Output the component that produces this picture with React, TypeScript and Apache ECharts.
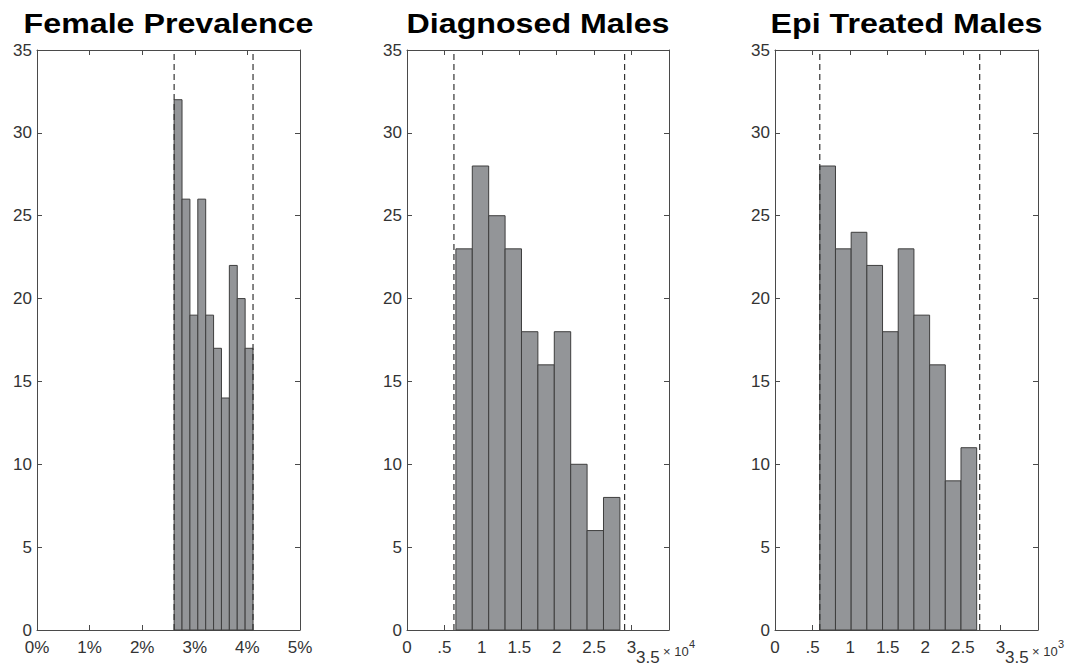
import React, { useEffect, useRef } from 'react';
import * as echarts from 'echarts';

// ---- data ----
const panelTitles = ['Female Prevalence', 'Diagnosed Males', 'Epi Treated Males'];

const femaleCounts = [32, 26, 19, 26, 19, 17, 14, 22, 20, 17];
const femaleBinStart = 0.02607;
const femaleBinWidth = 0.0015;
const femaleBounds = [0.02607, 0.04107];
const femaleXTicks = ['0%', '1%', '2%', '3%', '4%', '5%'];

const diagnosedCounts = [23, 28, 25, 23, 18, 16, 18, 10, 6, 8];
const diagnosedBinStart = 6530;
const diagnosedBinWidth = 2191;
const diagnosedBounds = [6270, 29070];
const diagnosedXTicks = ['0', '.5', '1', '1.5', '2', '2.5', '3', ''];

const epiCounts = [28, 23, 24, 22, 18, 23, 19, 16, 9, 11];
const epiBinStart = 596;
const epiBinWidth = 208.8;
const epiBounds = [596, 2724];
const epiXTicks = ['0', '.5', '1', '1.5', '2', '2.5', '3', ''];

const yMax = 35;
const yStep = 5;

const FONT = '"Liberation Sans", Arial, Helvetica, sans-serif';
const AXIS_COLOR = '#4a4a4a';
const LABEL_COLOR = '#333333';

type Panel = {
  title: string;
  counts: number[];
  start: number;
  width: number;
  bounds: number[];
  ticks: string[];
  xMax: number;
  xStep: number;
  left: number;
  gw: number;
  exponent?: string;
};

const panels: Panel[] = [
  { title: panelTitles[0], counts: femaleCounts, start: femaleBinStart, width: femaleBinWidth, bounds: femaleBounds, ticks: femaleXTicks, xMax: 0.05, xStep: 0.01, left: 37, gw: 263 },
  { title: panelTitles[1], counts: diagnosedCounts, start: diagnosedBinStart, width: diagnosedBinWidth, bounds: diagnosedBounds, ticks: diagnosedXTicks, xMax: 35000, xStep: 5000, left: 407, gw: 262, exponent: '4' },
  { title: panelTitles[2], counts: epiCounts, start: epiBinStart, width: epiBinWidth, bounds: epiBounds, ticks: epiXTicks, xMax: 3500, xStep: 500, left: 775, gw: 263, exponent: '3' },
];

const GRID_TOP = 50;
const GRID_H = 580;

function buildOption() {
  const grid: any[] = [];
  const xAxis: any[] = [];
  const yAxis: any[] = [];
  const series: any[] = [];
  const graphic: any[] = [];

  panels.forEach((p, i) => {
    grid.push({ left: p.left, top: GRID_TOP, width: p.gw, height: GRID_H });
    graphic.push({
      type: 'text',
      x: p.left + p.gw / 2,
      y: 23,
      scaleX: 1.15,
      style: {
        text: p.title,
        font: `bold 28px ${FONT}`,
        fill: '#000',
        align: 'center',
        verticalAlign: 'middle',
      },
    });
    const axisCommon = {
      gridIndex: i,
      type: 'value',
      axisLine: { show: true, onZero: false, lineStyle: { color: AXIS_COLOR, width: 1 } },
      axisTick: { show: true, inside: true, length: 5, lineStyle: { color: AXIS_COLOR, width: 1 } },
      splitLine: { show: false },
    };
    xAxis.push({
      ...axisCommon,
      position: 'bottom',
      min: 0,
      max: p.xMax,
      interval: p.xStep,
      axisLabel: {
        fontFamily: FONT,
        fontSize: 17,
        lineHeight: 14,
        color: LABEL_COLOR,
        margin: 10,
        formatter: (_v: number, idx: number) => p.ticks[idx] ?? '',
      },
    });
    xAxis.push({
      ...axisCommon,
      position: 'top',
      min: 0,
      max: p.xMax,
      interval: p.xStep,
      axisLabel: { show: false },
    });
    yAxis.push({
      ...axisCommon,
      position: 'left',
      min: 0,
      max: yMax,
      interval: yStep,
      axisLabel: { fontFamily: FONT, fontSize: 17, lineHeight: 14, color: LABEL_COLOR, margin: 5 },
    });
    yAxis.push({
      ...axisCommon,
      position: 'right',
      min: 0,
      max: yMax,
      interval: yStep,
      axisLabel: { show: false },
    });

    const bins = p.counts.map((c, k) => [p.start + k * p.width, p.start + (k + 1) * p.width, c]);
    series.push({
      type: 'custom',
      xAxisIndex: i * 2,
      yAxisIndex: i * 2,
      data: bins,
      encode: { x: [0, 1], y: 2 },
      renderItem: (_params: any, api: any) => {
        const a = api.coord([api.value(0), api.value(2)]);
        const b = api.coord([api.value(1), 0]);
        return {
          type: 'rect',
          shape: { x: a[0], y: a[1], width: b[0] - a[0], height: b[1] - a[1] },
          style: { fill: '#939598', stroke: '#3e3e3e', lineWidth: 1 },
        };
      },
    });
    p.bounds.forEach((bd) => {
      series.push({
        type: 'line',
        xAxisIndex: i * 2,
        yAxisIndex: i * 2,
        data: [[bd, 0], [bd, yMax]],
        symbol: 'none',
        silent: true,
        z: 5,
        lineStyle: { color: '#333333', width: 1.2, type: [6, 4] },
      });
    });

    if (p.exponent) {
      const right = p.left + p.gw;
      graphic.push({
        type: 'text',
        x: right - 33,
        y: 649,
        style: { text: '3.5', font: `17px ${FONT}`, fill: LABEL_COLOR },
      });
      graphic.push({
        type: 'text',
        x: right - 6,
        y: 645,
        style: { text: '× 10', font: `13px ${FONT}`, fill: LABEL_COLOR },
      });
      graphic.push({
        type: 'text',
        x: right + 20,
        y: 638,
        style: { text: p.exponent, font: `11px ${FONT}`, fill: LABEL_COLOR },
      });
    }
  });

  return { animation: false, backgroundColor: '#ffffff', grid, xAxis, yAxis, series, graphic };
}

export default function App() {
  const ref = useRef<HTMLDivElement>(null);
  useEffect(() => {
    if (!ref.current) return;
    const chart = echarts.init(ref.current, undefined, { renderer: 'svg' });
    chart.setOption(buildOption() as any);
    return () => chart.dispose();
  }, []);
  return (
    <div
      ref={ref}
      style={{ position: 'absolute', left: 0, top: 0, width: 1084, height: 669, background: '#fff' }}
    />
  );
}
